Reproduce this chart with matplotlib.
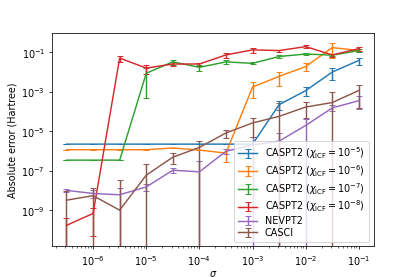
import numpy as np
import matplotlib
matplotlib.use('Agg')
import matplotlib.pyplot as plt
from matplotlib.ticker import NullLocator

# noise level sigma, 10^-6.5 ... 10^-1 in half decades
sigma = [3.16e-7, 1e-6, 3.16e-6, 1e-5, 3.16e-5, 1e-4, 3.16e-4, 1e-3, 3.16e-3, 1e-2, 3.16e-2, 1e-1]

caspt2_5 = [2.2e-6, 2.2e-6, 2.2e-6, 2.2e-6, 2.2e-6, 2.2e-6, 2.2e-6, 2.2e-6, 2.2e-4, 1.12e-3, 9.8e-3, 3.8e-2]
caspt2_5_err = [0, 0, 0, 0, 0, 0, 0, 0, 1e-4, 5.5e-4, 5.8e-3, 1.5e-2]

caspt2_6 = [1.15e-6, 1.15e-6, 1.15e-6, 1.15e-6, 1.4e-6, 1.1e-6, 7.7e-7, 1.7e-3, 5.9e-3, 1.86e-2, 0.17, 0.12]
caspt2_6_err = [0, 0, 0, 0, 0, 0, 5e-7, 1.25e-3, 3.9e-3, 8e-3, 0.12, 2e-2]

caspt2_7 = [3.4e-7, 3.4e-7, 3.4e-7, 8.5e-3, 3.2e-2, 1.7e-2, 3.2e-2, 2.7e-2, 6e-2, 8e-2, 7e-2, 0.12]
caspt2_7_err = [0, 0, 0, 8e-3, 1e-2, 6e-3, 7e-3, 3e-3, 1e-2, 1e-2, 8e-3, 2e-2]

caspt2_8 = [1.7e-10, 6.8e-10, 5e-2, 1.55e-2, 2.5e-2, 2.5e-2, 7.2e-2, 0.13, 0.12, 0.19, 7.2e-2, 0.15]
caspt2_8_err = [2.3e-10, 6.3e-10, 1.7e-2, 8e-3, 5e-3, 4e-3, 2e-2, 4e-2, 1.5e-2, 3e-2, 1.3e-2, 3e-2]

nevpt2 = [1e-8, 7e-9, 6e-9, 1.5e-8, 1.05e-7, 8.7e-8, 9.6e-7, 2e-6, 3.1e-6, 1.95e-5, 1.5e-4, 3.5e-4]
nevpt2_err = [2e-9, 3e-9, 6.5e-9, 6e-9, 3e-8, 2.1e-7, 2.5e-7, 3e-6, 5e-6, 2.3e-5, 5e-5, 2.2e-4]

casci = [3.2e-9, 5.4e-9, 1e-9, 5.9e-8, 4.8e-7, 1.5e-6, 8.1e-6, 2.6e-5, 5.6e-5, 1.66e-4, 2.8e-4, 1.15e-3]
casci_err = [6e-9, 8e-9, 3.4e-8, 1.6e-7, 2.7e-7, 1.6e-6, 3.7e-6, 2.1e-5, 2.2e-4, 1.2e-4, 6.7e-4, 1e-3]

series = [
    (caspt2_5, caspt2_5_err, r'CASPT2 ($\chi_{\mathrm{ICF}}=10^{-5}$)'),
    (caspt2_6, caspt2_6_err, r'CASPT2 ($\chi_{\mathrm{ICF}}=10^{-6}$)'),
    (caspt2_7, caspt2_7_err, r'CASPT2 ($\chi_{\mathrm{ICF}}=10^{-7}$)'),
    (caspt2_8, caspt2_8_err, r'CASPT2 ($\chi_{\mathrm{ICF}}=10^{-8}$)'),
    (nevpt2, nevpt2_err, 'NEVPT2'),
    (casci, casci_err, 'CASCI'),
]

dpi = 69.2
fig, ax = plt.subplots(figsize=(415 / dpi, 277.5 / dpi), dpi=dpi)
for vals, errs, label in series:
    ax.errorbar(sigma, vals, yerr=errs, capsize=3, label=label)

ax.set_xscale('log')
ax.set_yscale('log')
ax.set_ylim(1.45e-11, 0.95)
ax.set_yticks([1e-1, 1e-3, 1e-5, 1e-7, 1e-9])
ax.yaxis.set_minor_locator(NullLocator())
ax.set_xlabel(r'$\sigma$', labelpad=1.5)
ax.set_ylabel('Absolute error (Hartree)')
ax.legend(loc='lower right', labelspacing=0.2)
fig.savefig('out.png', dpi=dpi)
